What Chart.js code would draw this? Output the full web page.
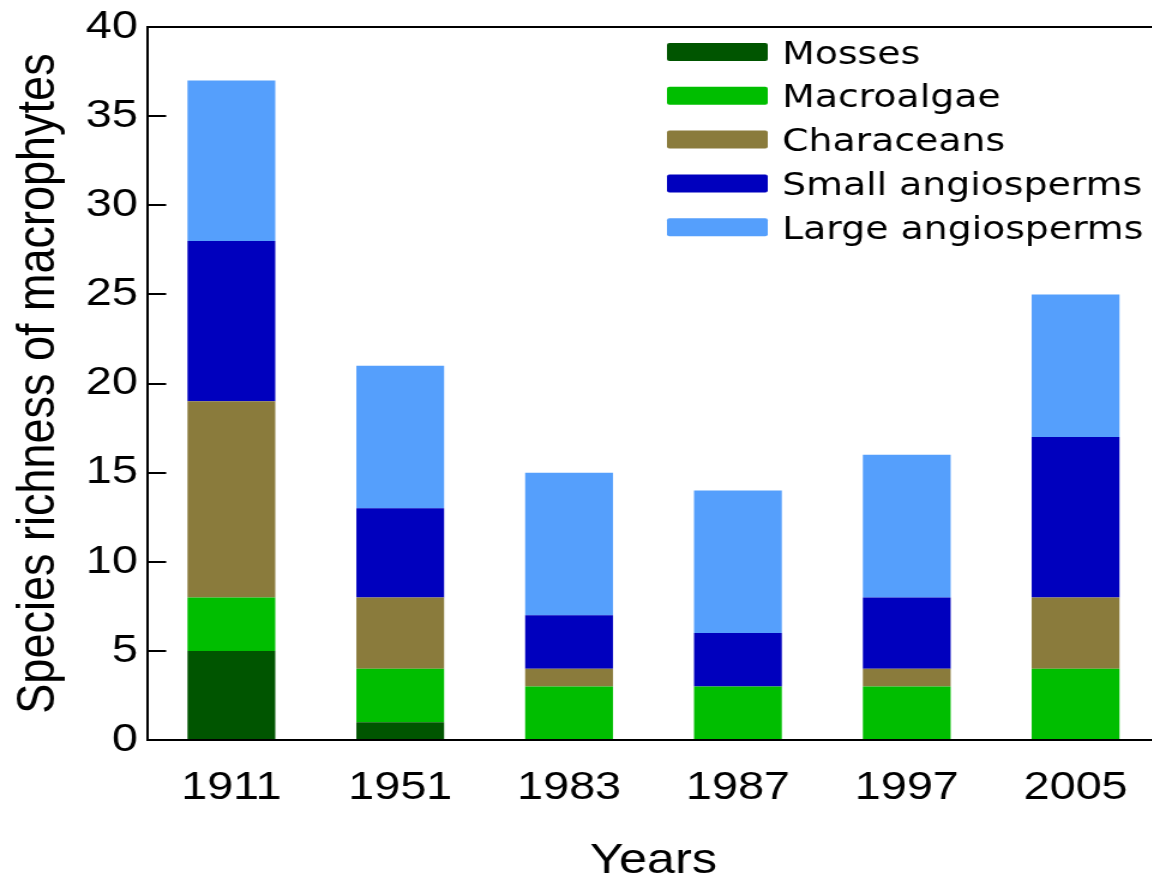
<!DOCTYPE html>
<html>
<head>
<meta charset="utf-8">
<title>Species richness of macrophytes</title>
<script src="https://cdn.jsdelivr.net/npm/chart.js@4/dist/chart.umd.min.js"></script>
<style>
  html, body { margin: 0; padding: 0; background: #fff; overflow: hidden; }
  #richnessChart { display: block; }
</style>
</head>
<body>
<!-- the figure is stretched sideways, so the canvas is drawn narrower and widened by css -->
<canvas id="richnessChart" width="967" height="900" style="width:1160px;height:900px"></canvas>
<script>
// Data
const years = ['1911', '1951', '1983', '1987', '1997', '2005'];
const mosses = [5, 1, 0, 0, 0, 0];
const macroalgae = [3, 3, 3, 3, 3, 4];
const characeans = [11, 4, 1, 0, 1, 4];
const smallAngiosperms = [9, 5, 3, 3, 4, 9];
const largeAngiosperms = [9, 8, 8, 8, 8, 8];
const yTicks = [0, 5, 10, 15, 20, 25, 30, 35, 40];

Chart.defaults.font.family = '"Liberation Sans", Arial, sans-serif';
Chart.defaults.color = '#000';

// line along the top of the plot
const topLine = {
  id: 'topLine',
  afterDraw(chart) {
    const { ctx, chartArea } = chart;
    ctx.save();
    ctx.strokeStyle = '#000';
    ctx.lineWidth = 2;
    ctx.beginPath();
    ctx.moveTo(chartArea.left, chartArea.top);
    ctx.lineTo(chartArea.right, chartArea.top);
    ctx.stroke();
    ctx.restore();
  }
};

// legend inside the plot, top right
const boxLegend = {
  id: 'boxLegend',
  afterDraw(chart) {
    const ctx = chart.ctx;
    ctx.save();
    ctx.font = '31.5px "DejaVu Sans"';
    ctx.textBaseline = 'middle';
    chart.data.datasets.forEach((ds, i) => {
      const cy = 52 + i * 43.8;
      ctx.fillStyle = ds.backgroundColor;
      ctx.beginPath();
      ctx.roundRect(556, cy - 9, 84, 18, 2);
      ctx.fill();
      ctx.fillStyle = '#000';
      ctx.fillText(ds.label, 652, cy + 3.5);
    });
    ctx.restore();
  }
};

const richnessChart = new Chart(document.getElementById('richnessChart'), {
  type: 'bar',
  data: {
    labels: years,
    datasets: [
      { label: 'Mosses', data: mosses, backgroundColor: '#005500' },
      { label: 'Macroalgae', data: macroalgae, backgroundColor: '#00be00' },
      { label: 'Characeans', data: characeans, backgroundColor: '#8a7b3c' },
      { label: 'Small angiosperms', data: smallAngiosperms, backgroundColor: '#0000be' },
      { label: 'Large angiosperms', data: largeAngiosperms, backgroundColor: '#559ffc' },
    ],
  },
  options: {
    responsive: false,
    animation: false,
    barPercentage: 0.52,
    categoryPercentage: 1,
    layout: { padding: { top: 27, right: 0, left: 0, bottom: 0 } },
    plugins: {
      legend: { display: false },
      tooltip: { enabled: false },
    },
    scales: {
      x: {
        stacked: true,
        grid: { display: false },
        border: { display: true, color: '#000', width: 2 },
        ticks: { font: { size: 39 }, padding: 17, maxRotation: 0, autoSkip: false },
        title: { display: true, text: 'Years', font: { size: 42 }, padding: { top: 0, bottom: 13 } },
        afterFit: (scale) => { scale.height = 160; },
      },
      y: {
        stacked: true,
        min: 0,
        max: 40,
        grid: { drawOnChartArea: false, drawTicks: true, tickLength: -16, color: '#000', lineWidth: 2 },
        border: { display: true, color: '#000', width: 2 },
        ticks: { font: { size: 39 }, padding: 23.5 },
        afterBuildTicks: (scale) => { scale.ticks = yTicks.map(v => ({ value: v })); },
        title: { display: true, text: 'Species richness of macrophytes', font: { size: 45 }, padding: { top: 6, bottom: 0 } },
        afterFit: (scale) => {
          scale.width = 122.5;
          // label padding should not push the plot down
          scale.paddingTop = 0;
          scale.paddingBottom = 0;
        },
      },
    },
  },
  plugins: [topLine, boxLegend],
});
</script>
</body>
</html>
